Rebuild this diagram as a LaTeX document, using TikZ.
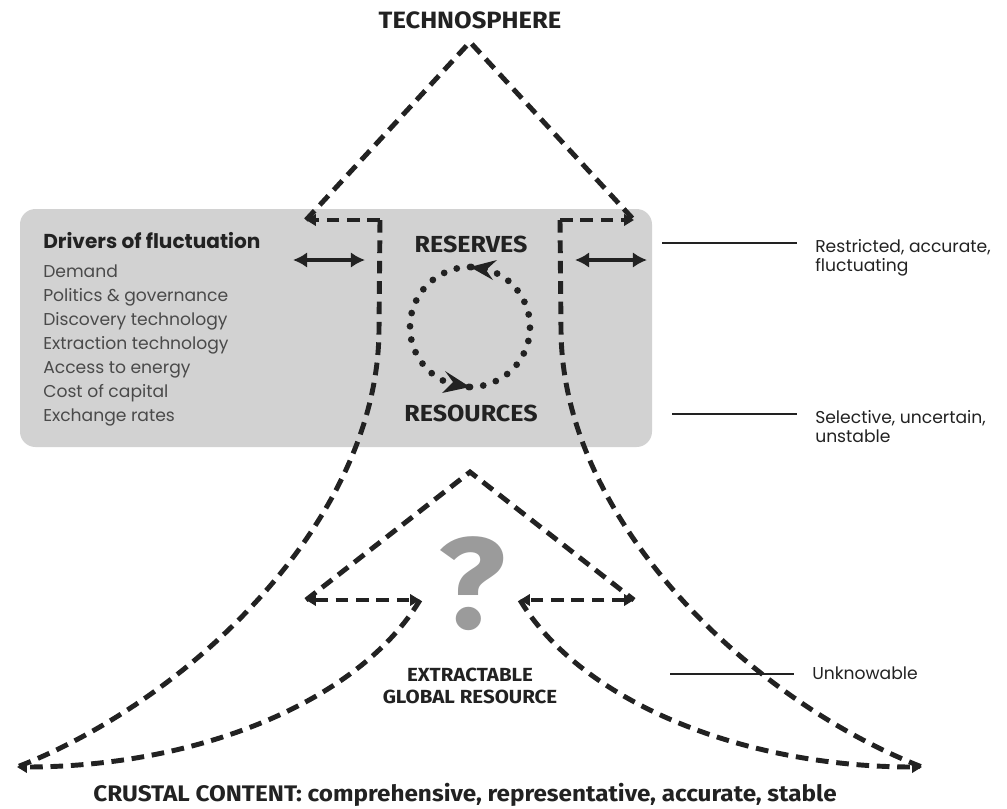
\documentclass[tikz,border=0pt]{standalone}
\usepackage{fontspec}
\setmainfont{Poppins}
\newfontfamily\dinfont{Fira Sans}[FakeStretch=1.08]
\usepackage{tikz}
\usetikzlibrary{positioning}
\usetikzlibrary{arrows.meta}
\definecolor{boxgrey}{HTML}{D2D2D2}
\definecolor{inkgrey}{HTML}{222222}
\definecolor{listgrey}{HTML}{4A4A4A}
\definecolor{qgrey}{HTML}{9B9B9B}
\tikzset{outline/.style = {draw=inkgrey, line width=3.5pt, dash pattern=on 9pt off 5.5pt},
  tip/.style = {-{Triangle[length=7pt,width=8pt]}},
  bothtips/.style = {{Triangle[length=7pt,width=8pt]}-{Triangle[length=7pt,width=8pt]}},
  twoway/.style = {draw=inkgrey, line width=2.6pt, {Latex[length=10pt,width=11pt]}-{Latex[length=10pt,width=11pt]}},
  cycle dots/.style = {draw=inkgrey, line width=4.8pt, line cap=round, dash pattern=on 0pt off 9.5pt},
  leader/.style = {draw=inkgrey, line width=1.9pt, shorten >=12.8pt}}

\begin{document}
\begin{tikzpicture}[x=0.025cm, y=-0.025cm,
    head/.style={text=inkgrey, inner sep=0pt},
    listtext/.style={font=\fontsize{12.2}{17}\selectfont, text=listgrey, inner sep=0pt, anchor=base west},
    note/.style={font=\fontsize{12.2}{13.5}\selectfont, text=inkgrey, inner sep=0pt, align=left, anchor=base west}]
  \useasboundingbox (0,0) rectangle (1007,809);

  % grey band
  \fill[boxgrey, rounded corners=11pt] (20,209) rectangle (652,447);

  % outline points
  \coordinate (apex) at (470,42);
  \coordinate (ltip) at (306,220);
  \coordinate (lcorner) at (380,220);
  \coordinate (rtip) at (634,220);
  \coordinate (rcorner) at (560,220);
  \coordinate (lbend) at (379,330);
  \coordinate (rbend) at (561,330);
  \coordinate (lfoot) at (17,767);
  \coordinate (rfoot) at (922,767);
  \coordinate (inapex) at (470,472);
  \coordinate (linner) at (306,600);
  \coordinate (lnotch) at (420,600);
  \coordinate (rinner) at (634,600);
  \coordinate (rnotch) at (520,600);

  \draw[outline] (ltip) -- (apex) -- (rtip);
  \draw[outline, tip] (lcorner) -- (ltip);
  \draw[outline, tip] (rcorner) -- (rtip);
  \draw[outline] (lcorner) -- (lbend) .. controls (378,520) and (190,700) .. (lfoot);
  \draw[outline] (rcorner) -- (rbend) .. controls (562,520) and (750,700) .. (rfoot);
  \draw[outline] (linner) -- (inapex) -- (rinner);
  \draw[outline, bothtips] (linner) -- (lnotch);
  \draw[outline, bothtips] (rinner) -- (rnotch);
  \draw[outline, tip] (lnotch) .. controls (360,700) and (200,767) .. (lfoot);
  \draw[outline, tip] (rnotch) .. controls (580,700) and (740,767) .. (rfoot);

  % exchange arrows
  \coordinate (lswapa) at (293,260);
  \coordinate (lswapb) at (365,260);
  \coordinate (rswapa) at (575,260);
  \coordinate (rswapb) at (647,260);
  \draw[twoway] (lswapa) -- (lswapb);
  \draw[twoway] (rswapa) -- (rswapb);

  % reserves <-> resources cycle
  \coordinate (cyctop) at (470,267);
  \coordinate (cycbot) at (470,387);
  \draw[cycle dots] (cycbot) arc[start angle=90, end angle=-90, radius=60];
  \draw[cycle dots] (cyctop) arc[start angle=270, end angle=90, radius=60];
  \fill[inkgrey] (cyctop) -- (497,260) -- (486,270) -- (493,280) -- cycle;
  \fill[inkgrey] (cycbot) -- (445,371) -- (453,382) -- (442,393) -- cycle;

  % headings
  \node[head, font=\dinfont\bfseries\fontsize{16.8}{18}\selectfont] (techno) at (470,20) {TECHNOSPHERE};
  \node[head, font=\dinfont\bfseries\fontsize{16.5}{18}\selectfont] (reserves) at (471,244) {RESERVES};
  \node[head, font=\dinfont\bfseries\fontsize{16.5}{18}\selectfont] (resources) at (471,413) {RESOURCES};
  \node[head, font=\dinfont\bfseries\fontsize{13.5}{15.6}\selectfont, align=center] (extract) at (470,686) {EXTRACTABLE\\GLOBAL RESOURCE};
  \node[head, font=\dinfont\bfseries\fontsize{16}{18}\selectfont] (crust) at (465,795) {CRUSTAL CONTENT: comprehensive, representative, accurate, stable};
  \node[font=\dinfont\bfseries\fontsize{92}{92}\selectfont, text=qgrey, inner sep=0pt] (query) at (472,584) {?};

  % drivers
  \node[font=\bfseries\fontsize{14.3}{17}\selectfont, text=inkgrey, inner sep=0pt, anchor=base west] (drivers) at (43,248) {Drivers of fluctuation};
  \foreach \drv [count=\i] in {Demand, Politics \& governance, Discovery technology,
      Extraction technology, Access to energy, Cost of capital, Exchange rates}
    \node[listtext] (drv\i) at (43,{253+24*\i}) {\drv};

  % side notes
  \node[note] (restricted) at (815,271) {Restricted, accurate,\\fluctuating};
  \node[note] (selective) at (815,442) {Selective, uncertain,\\unstable};
  \node[note] (unknowable) at (812,679) {Unknowable};
  \coordinate (resline) at (662,243);
  \coordinate (selline) at (672,414);
  \coordinate (unkline) at (670,674);
  \draw[leader] (resline) -- (resline -| restricted.west);
  \draw[leader] (selline) -- (selline -| selective.west);
  \draw[leader, line width=1.4pt] (unkline) -- (unkline -| unknowable.west);
\end{tikzpicture}
\end{document}
